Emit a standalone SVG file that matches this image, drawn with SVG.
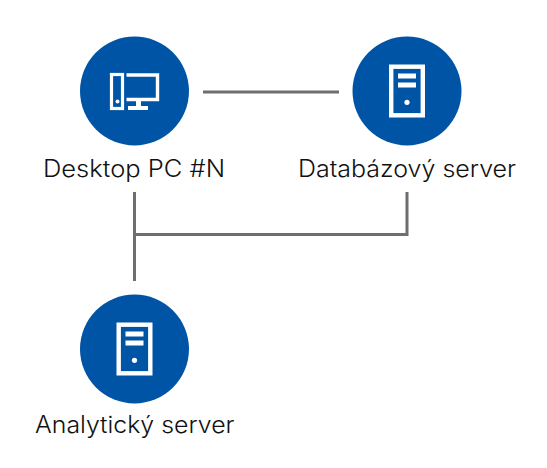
<svg xmlns="http://www.w3.org/2000/svg" width="547" height="468" viewBox="0 0 547 468">
<style>
.c{fill:#0054a6}
.w{fill:none;stroke:#fff}
.f{fill:#fff}
.l{font-family:"Inter","Noto Sans",sans-serif;font-size:23.500px;font-weight:300;fill:#111}
.k{fill:none;stroke:#6d6e71;stroke-width:3}
</style>
<defs>
<g id="srv">
<rect x="-15.8" y="-24.3" width="31.6" height="48.6" fill="none" stroke="#fff" stroke-width="4.4"/>
<rect x="-9" y="-17.5" width="18" height="5" fill="#fff"/>
<rect x="-9" y="-8.5" width="18" height="5" fill="#fff"/>
<circle cx="0" cy="11.3" r="2.6" fill="#fff"/>
</g>
</defs>
<g id="connectors">
<path class="k" d="M203 92H339"/>
<path class="k" d="M134.500 192V281"/>
<path class="k" d="M134.500 234.500H407V192"/>
</g>
<g id="desktop">
<circle class="c" cx="134.500" cy="91" r="54.500"/>
<rect class="w" x="111.500" y="74.500" width="11" height="34" stroke-width="3.200"/>
<circle class="f" cx="117.500" cy="101.500" r="2"/>
<path class="w" stroke-width="3.400" d="M126.500 75H157.500V99.500H126.500"/>
<rect class="f" x="136" y="100" width="5" height="7"/>
<rect class="f" x="128" y="106" width="20" height="4"/>
<text class="l" x="43" y="177" textLength="182" lengthAdjust="spacingAndGlyphs">Desktop PC #N</text>
</g>
<g id="database-server">
<circle class="c" cx="407" cy="91" r="54.500"/>
<use href="#srv" x="407" y="91"/>
<text class="l" x="298" y="177" textLength="218" lengthAdjust="spacingAndGlyphs">Databázový server</text>
</g>
<g id="analytics-server">
<circle class="c" cx="134.500" cy="349" r="54.500"/>
<use href="#srv" x="134.500" y="349"/>
<text class="l" x="35" y="433" textLength="199.500" lengthAdjust="spacingAndGlyphs">Analytický server</text>
</g>
</svg>
